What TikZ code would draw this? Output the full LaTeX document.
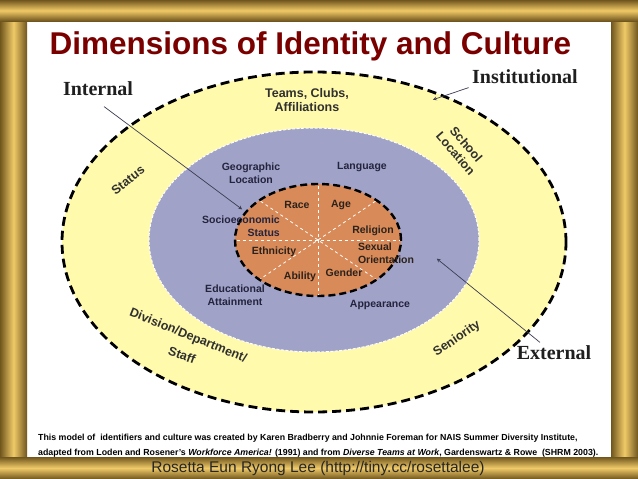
\documentclass[tikz,border=0pt]{standalone}
\usepackage{fontspec}
\setmainfont{Liberation Serif}
\setsansfont{Liberation Sans}
\usetikzlibrary{arrows,shapes.geometric}

\definecolor{goldlight}{RGB}{240,202,104}
\definecolor{golddark}{RGB}{112,86,30}
\definecolor{titlered}{RGB}{122,0,0}
\definecolor{ringyellow}{RGB}{255,250,172}
\definecolor{ringblue}{RGB}{160,162,200}
\definecolor{coreorange}{RGB}{216,138,88}
\definecolor{inkgray}{RGB}{48,48,48}
\definecolor{inkblue}{RGB}{36,36,62}
\definecolor{inkbrown}{RGB}{44,34,28}
\definecolor{leader}{RGB}{60,60,82}

\begin{document}
\begin{tikzpicture}[
            x = 1pt, y = 1pt, % one unit per pixel
            > = stealth, % arrow head style
            ring/.style = {ellipse, inner sep=0pt, outer sep=0pt},
            outerlbl/.style = {font=\sffamily\bfseries\fontsize{12.5}{14}\selectfont, text=inkgray, align=center},
            midlbl/.style = {font=\sffamily\bfseries\fontsize{10.5}{12.5}\selectfont, text=inkblue, align=center},
            corelbl/.style = {font=\sffamily\bfseries\fontsize{10.5}{12.5}\selectfont, text=inkbrown, align=center},
            sidelbl/.style = {font=\bfseries\fontsize{20}{22}\selectfont, text=black!88},
            caption/.style = {font=\sffamily\bfseries\fontsize{8.8}{10}\selectfont, text=black, anchor=base west, inner sep=0pt},
            divider/.style = {draw=white, dashed, line width=0.8pt, shorten > = 1.5pt, shorten < = 1.5pt},
            pointer/.style = {->, draw=leader, line width=0.7pt, shorten > = 1pt} % don't touch arrow head
        ]

	% gold frame
	\useasboundingbox (0,0) rectangle (638,-479);
	\fill[white] (0,0) rectangle (638,-479);
	\shade[left color=golddark, right color=golddark, middle color=goldlight] (0,0) rectangle (27,-479);
	\shade[left color=golddark, right color=golddark, middle color=goldlight] (611,0) rectangle (638,-479);
	\shade[top color=golddark, bottom color=golddark, middle color=goldlight] (0,0) rectangle (638,-21);
	\shade[top color=golddark, bottom color=golddark, middle color=goldlight] (0,-457) rectangle (638,-479);

	\node[font=\sffamily\bfseries\fontsize{31.5}{36}\selectfont, text=titlered, anchor=base west] (title) at (46,-54) {Dimensions of Identity and Culture};

	% the three rings
	\node[ring, fill=ringyellow, draw=black, dash pattern=on 9pt off 5pt, line width=2.8pt, minimum width=504pt, minimum height=340pt] (outer) at (314,-242) {};
	\node[ring, fill=ringblue, draw=white, dash pattern=on 3pt off 1.5pt, line width=1pt, minimum width=330pt, minimum height=224pt] (mid) at (314,-240) {};
	\node[ring, fill=coreorange, draw=black, dash pattern=on 7pt off 4pt, line width=2.4pt, minimum width=166pt, minimum height=112pt] (core) at (318,-240) {};

	\draw[divider] (core.north) -- (core.south);
	\draw[divider] (core.west) -- (core.east);
	\draw[divider] (core.north west) -- (core.south east);
	\draw[divider] (core.north east) -- (core.south west);

	% outer ring
	\node[outerlbl] (teams) at (307,-100) {Teams, Clubs,\\Affiliations};
	\node[outerlbl, rotate=38] (status) at (128,-180) {Status};
	\node[outerlbl, rotate=-49] (school) at (461,-149) {School\\Location};
	\node[outerlbl, rotate=-22] (division) at (188,-336) {Division/Department/};
	\node[outerlbl, rotate=-20] (staff) at (182,-355) {Staff};
	\node[outerlbl, rotate=34] (seniority) at (457,-339) {Seniority};

	% middle ring
	\node[midlbl] (geographic) at (251,-173) {Geographic\\Location};
	\node[midlbl] (language) at (362,-167) {Language};
	\node[midlbl, align=right] (socio) at (241,-226) {Socioeconomic\\Status};
	\node[midlbl] (educational) at (235,-295) {Educational\\Attainment};
	\node[midlbl] (appearance) at (380,-305) {Appearance};

	% core
	\node[corelbl] (race) at (297,-205) {Race};
	\node[corelbl] (age) at (341,-205) {Age};
	\node[corelbl] (religion) at (373,-231) {Religion};
	\node[corelbl, align=left] (sexual) at (386,-253) {Sexual\\Orientation};
	\node[corelbl] (ethnicity) at (274,-252) {Ethnicity};
	\node[corelbl] (ability) at (300,-277) {Ability};
	\node[corelbl] (gender) at (344,-273) {Gender};

	% pointers
	\node[sidelbl] (internal) at (98,-89) {Internal};
	\node[sidelbl] (institutional) at (525,-77) {Institutional};
	\node[sidelbl] (external) at (554,-353) {External};

	\coordinate (intip) at (243,-210);
	\coordinate (insttip) at (432,-100);
	\coordinate (exttip) at (436,-258);

	\draw[pointer] ([xshift=6pt,yshift=-7pt]internal.south) -- (intip);
	\draw[pointer] (institutional.south west) -- (insttip);
	\draw[pointer] ([xshift=-14pt]external.north) -- (exttip);

	% source lines
	\node[caption] (source1) at (38,-440) {This model of\ \ identifiers and culture was created by Karen Bradberry and Johnnie Foreman for NAIS Summer Diversity Institute,};
	\node[caption] (source2) at (38,-455) {adapted from Loden and Rosener’s \textit{Workforce America!} (1991) and from \textit{Diverse Teams at Work}, Gardenswartz \& Rowe\ \ (SHRM 2003).};

	\node[font=\sffamily\fontsize{15.5}{17}\selectfont, text=black!85] (author) at (318,-468) {Rosetta Eun Ryong Lee (http://tiny.cc/rosettalee)};

\end{tikzpicture}
\end{document}
